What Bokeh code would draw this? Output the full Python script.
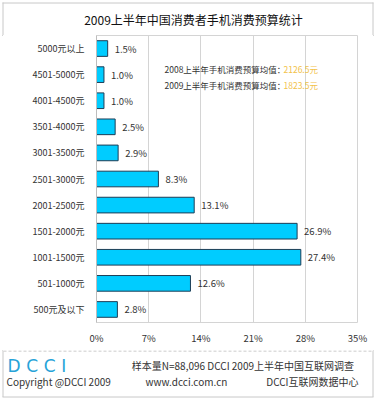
from bokeh.plotting import figure
from bokeh.layouts import column
from bokeh.models import (FactorRange, Range1d, FixedTicker, ColumnDataSource, LabelSet, Label)
from bokeh.core.properties import value
from bokeh.embed import file_html
from bokeh.resources import INLINE

categories = ["5000元以上", "4501-5000元", "4001-4500元", "3501-4000元", "3001-3500元",
              "2501-3000元", "2001-2500元", "1501-2000元", "1001-1500元", "501-1000元",
              "500元及以下"]
shares = [1.5, 1.0, 1.0, 2.5, 2.9, 8.3, 13.1, 26.9, 27.4, 12.6, 2.8]
tick_values = [0, 7, 14, 21, 28, 35]
tick_labels = ["0%", "7%", "14%", "21%", "28%", "35%"]
title_text = "2009上半年中国消费者手机消费预算统计"
avg_labels = ["2008上半年手机消费预算均值：", "2009上半年手机消费预算均值："]
avg_values = ["2126.5元", "1823.5元"]
footer_left = ["Copyright  @DCCI  2009"]
footer_mid = ["www.dcci.com.cn"]
footer_right = ["样本量N=88,096  DCCI  2009上半年中国互联网调查", "DCCI互联网数据中心"]

FONT = "Noto Sans CJK SC"
W, H = 376, 401
TOP_H, MAIN_H = 35, 315
FOOT_H = H - TOP_H - MAIN_H
BORDER = "#c8c8c8"


def blank(h, y0, y1):
    f = figure(width=W, height=h, output_backend="svg", toolbar_location=None,
               x_range=Range1d(0, W), y_range=Range1d(y1, y0), frame_align=False,
               min_border=0, min_border_left=0, min_border_right=0,
               min_border_top=0, min_border_bottom=0)
    f.axis.visible = False
    f.grid.visible = False
    f.outline_line_color = None
    f.background_fill_color = "white"
    f.border_fill_color = "white"
    return f


# ---- title strip ----
top = blank(TOP_H, 0, TOP_H)
top.text(x=[193], y=[19], text=[title_text], text_align="center", text_baseline="middle",
         text_font=value(FONT), text_font_size="12px", text_color="#111111")
top.segment(x0=[2, 2.5, 372.5], y0=[2.5, 2, 2], x1=[373, 2.5, 372.5], y1=[2.5, TOP_H, TOP_H],
            line_color=BORDER, line_width=1)

# ---- main chart ----
src = ColumnDataSource(dict(cat=categories, val=shares,
                            lab=[f"{v:.1f}%" for v in shares]))

p = figure(width=W, height=MAIN_H, output_backend="svg", toolbar_location=None,
           y_range=FactorRange(factors=list(reversed(categories)), range_padding=0),
           x_range=Range1d(0, 35), frame_align=False,
           min_border_left=96, min_border_right=19, min_border_top=0, min_border_bottom=28)
p.outline_line_color = "#d4d4d4"
p.background_fill_color = "white"
p.border_fill_color = "white"

p.hbar(y="cat", right="val", left=0, height=0.6, source=src,
       fill_color="#00ccff", line_color="#1d3d56", line_width=1)

p.add_layout(LabelSet(x="val", y="cat", text="lab", source=src, x_offset=7,
                      text_baseline="middle", text_font_size="9.5px",
                      text_font=value(FONT), text_color="#333333"))

for i, (t, v) in enumerate(zip(avg_labels, avg_values)):
    p.add_layout(Label(x=164 - 96, y=287 - (68 - 35) - i * 16, x_units="screen",
                       y_units="screen", text=t, text_baseline="middle", text_font=FONT,
                       text_font_size="8.5px", text_color="#333333"))
    p.add_layout(Label(x=283 - 96, y=287 - (68 - 35) - i * 16, x_units="screen",
                       y_units="screen", text=v, text_baseline="middle", text_font=FONT,
                       text_font_size="8.5px", text_color="#f2c24a"))

p.xaxis.ticker = FixedTicker(ticks=tick_values)
p.xaxis.major_label_overrides = {v: l for v, l in zip(tick_values, tick_labels)}
p.xaxis.axis_line_color = None
p.xaxis.major_tick_line_color = None
p.xaxis.major_tick_out = 0
p.xaxis.minor_tick_line_color = None
p.xaxis.major_label_standoff = 8
p.xaxis.major_label_text_font = FONT
p.xaxis.major_label_text_font_size = "9.5px"
p.xaxis.major_label_text_color = "#333333"

p.yaxis.axis_line_color = "#bdbdbd"
p.yaxis.major_tick_line_color = None
p.yaxis.major_tick_out = 0
p.yaxis.minor_tick_line_color = None
p.yaxis.major_label_standoff = 12
p.yaxis.major_label_text_font = FONT
p.yaxis.major_label_text_font_size = "9px"
p.yaxis.major_label_text_color = "#333333"

p.xgrid.ticker = FixedTicker(ticks=tick_values)
p.xgrid.grid_line_color = "#d4d4d4"
p.ygrid.grid_line_color = None

# ---- footer ----
y0 = TOP_H + MAIN_H
foot = blank(FOOT_H, y0, H)
foot.segment(x0=[3], y0=[350.5], x1=[372], y1=[350.5], line_color="#bbbbbb",
             line_dash="3 2", line_width=1)
foot.text(x=[7], y=[365], text=["D\u2004C\u2004C\u2004I"], text_baseline="middle",
          text_font=value("DejaVu Sans"), text_font_size="17px", text_color="#27a3d8")
foot.text(x=[6], y=[381], text=footer_left, text_baseline="middle",
          text_font=value(FONT), text_font_size="10px", text_color="#333333")
foot.text(x=[145], y=[381], text=footer_mid, text_baseline="middle",
          text_font=value(FONT), text_font_size="10px", text_color="#333333")
foot.text(x=[358, 358], y=[365, 381], text=footer_right, text_align="right",
          text_baseline="middle", text_font=value(FONT), text_font_size="10px",
          text_color="#333333")
foot.segment(x0=[2.5, 372.5, 2], y0=[y0, y0, 396.5], x1=[2.5, 372.5, 373],
             y1=[396.5, 396.5, 396.5], line_color=BORDER, line_width=1)

layout = column(top, p, foot, spacing=0,
                styles={"outline": f"1px solid {BORDER}", "outline-offset": "-3px"})

open("out.html", "w").write(file_html(layout, INLINE))
